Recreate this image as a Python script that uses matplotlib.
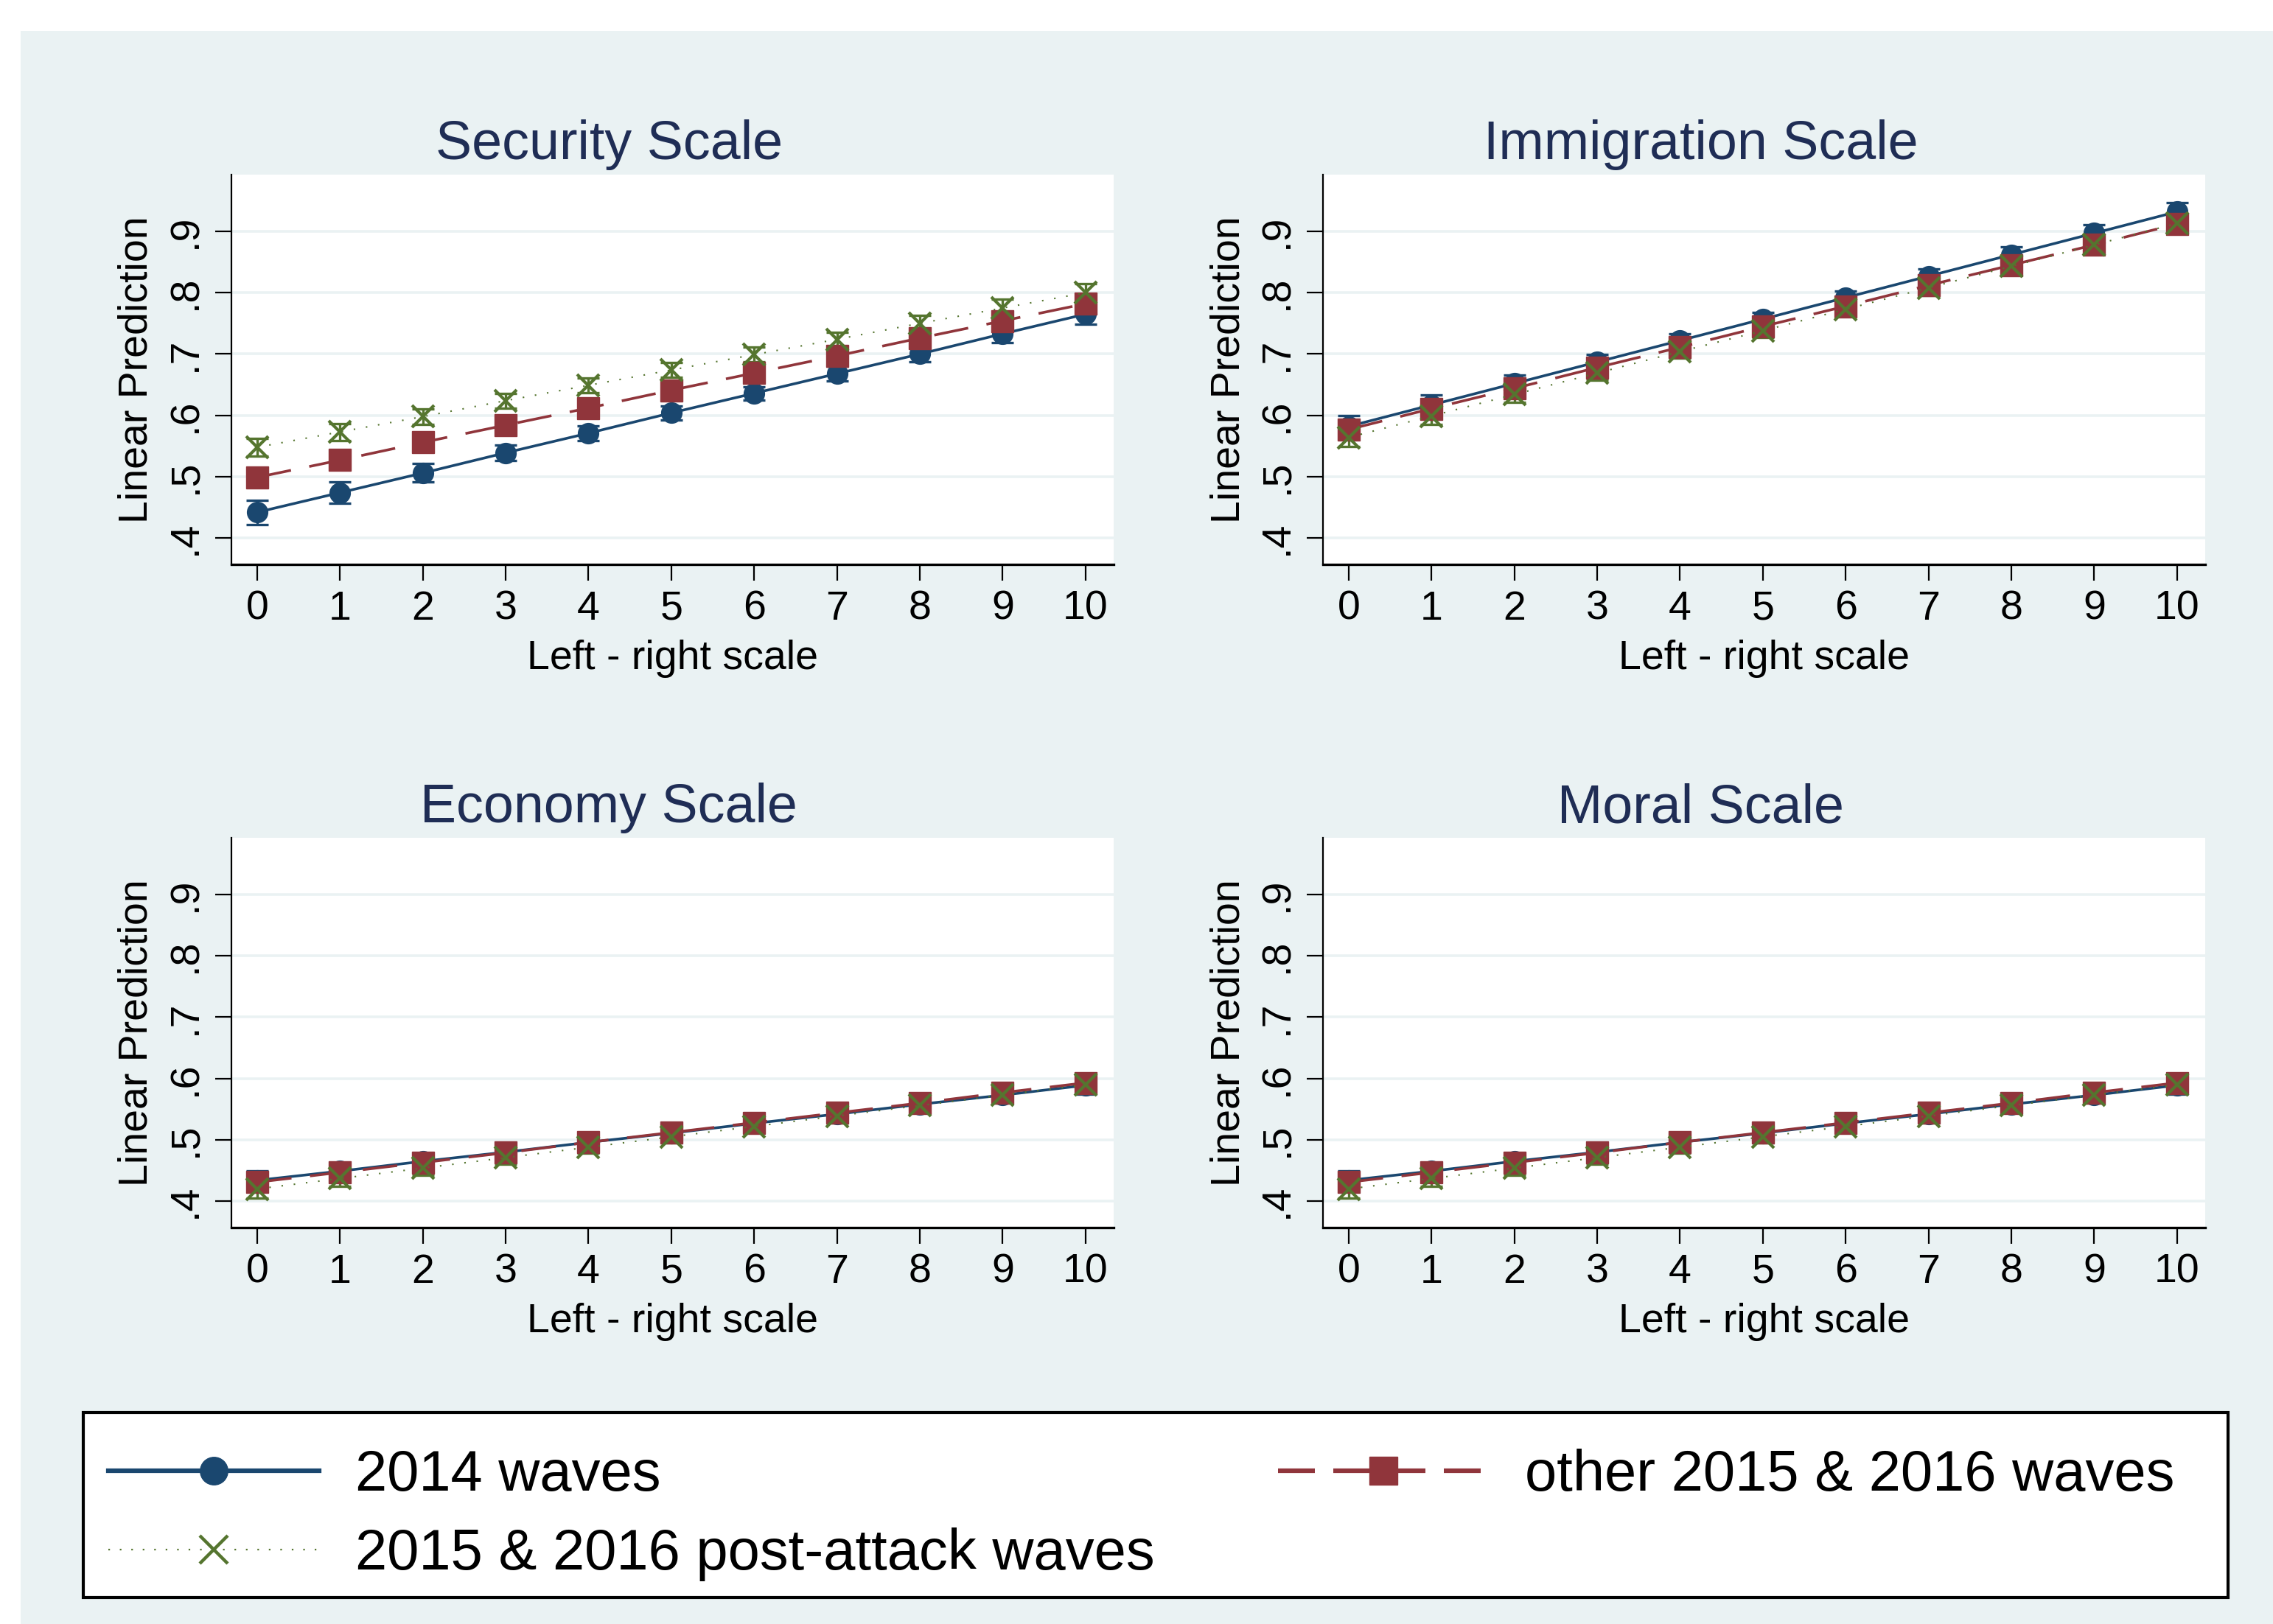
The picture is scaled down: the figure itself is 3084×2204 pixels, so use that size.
import matplotlib
matplotlib.use("Agg")
import matplotlib.pyplot as plt
from matplotlib.lines import Line2D
from matplotlib.patches import Rectangle

plt.rcParams['font.family'] = ['Liberation Sans', 'DejaVu Sans']

# valores (prediccion lineal por escala izquierda-derecha)
lr_scale = [0, 1, 2, 3, 4, 5, 6, 7, 8, 9, 10]
panels = ["Security Scale", "Immigration Scale", "Economy Scale", "Moral Scale"]
series_names = ["2014 waves", "other 2015 & 2016 waves", "2015 & 2016 post-attack waves"]

security_2014 = [.442, .474, .506, .539, .571, .604, .636, .668, .700, .733, .765]
security_other = [.499, .527, .556, .584, .612, .641, .669, .697, .726, .754, .782]
security_post = [.548, .573, .598, .624, .649, .674, .699, .724, .750, .775, .800]
security_2014_ci = [.020, .017, .015, .013, .012, .011, .011, .012, .013, .014, .016]
security_other_ci = [.014, .012, .010, .009, .008, .008, .008, .009, .010, .011, .013]
security_post_ci = [.015, .014, .013, .012, .012, .012, .012, .012, .013, .014, .015]

immigration_2014 = [.582, .617, .652, .687, .722, .757, .792, .827, .862, .897, .932]
immigration_other = [.577, .611, .644, .678, .711, .745, .778, .812, .845, .878, .912]
immigration_post = [.564, .599, .634, .669, .704, .738, .773, .808, .843, .878, .913]
immigration_2014_ci = [.018, .016, .014, .012, .011, .011, .011, .012, .013, .014, .015]
immigration_other_ci = [.012, .011, .010, .009, .009, .009, .009, .009, .010, .011, .012]
immigration_post_ci = [.015, .014, .013, .012, .011, .011, .011, .012, .013, .014, .015]

economy_2014 = [.434, .449, .465, .480, .496, .511, .527, .542, .558, .573, .589]
economy_other = [.431, .447, .463, .479, .496, .512, .528, .544, .560, .577, .593]
economy_post = [.420, .437, .454, .471, .488, .505, .522, .539, .556, .573, .590]
economy_2014_ci = [.016, .014, .012, .010, .009, .009, .009, .010, .011, .012, .014]
economy_other_ci = [.012, .010, .009, .008, .008, .008, .008, .008, .009, .010, .012]
economy_post_ci = [.015, .013, .012, .011, .010, .010, .010, .011, .012, .013, .014]

moral_2014 = [.434, .449, .465, .480, .496, .511, .527, .542, .558, .573, .589]
moral_other = [.431, .447, .463, .479, .496, .512, .528, .544, .560, .577, .593]
moral_post = [.420, .437, .454, .471, .488, .505, .522, .539, .556, .573, .590]
moral_2014_ci = [.016, .014, .012, .010, .009, .009, .009, .010, .011, .012, .014]
moral_other_ci = [.012, .010, .009, .008, .008, .008, .008, .008, .009, .010, .012]
moral_post_ci = [.015, .013, .012, .011, .010, .010, .010, .011, .012, .013, .014]

y_ticks = [.4, .5, .6, .7, .8, .9]
y_ticklabels = [".4", ".5", ".6", ".7", ".8", ".9"]

datos = [
    (security_2014, security_other, security_post,
     security_2014_ci, security_other_ci, security_post_ci),
    (immigration_2014, immigration_other, immigration_post,
     immigration_2014_ci, immigration_other_ci, immigration_post_ci),
    (economy_2014, economy_other, economy_post,
     economy_2014_ci, economy_other_ci, economy_post_ci),
    (moral_2014, moral_other, moral_post,
     moral_2014_ci, moral_other_ci, moral_post_ci),
]

# colores estilo Stata s2color
azul = "#1A476F"
granate = "#90353B"
verde = "#55752F"
fondo = "#EAF2F3"
titulo_color = "#1F2D55"

fig = plt.figure(figsize=(30.84, 22.04), dpi=100)
fig.patches.append(Rectangle((28 / 3084, 0), 1, 1 - 42 / 2204,
                             transform=fig.transFigure, facecolor=fondo,
                             edgecolor="none", zorder=-10))

# posiciones de los paneles en fracciones de figura
lefts = [314 / 3084, 1795 / 3084, 314 / 3084, 1795 / 3084]
bottoms = [1 - 766 / 2204, 1 - 766 / 2204, 1 - 1666 / 2204, 1 - 1666 / 2204]
ancho = 1197 / 3084
alto = 529 / 2204

for i, nombre in enumerate(panels):
    ax = fig.add_axes([lefts[i], bottoms[i], ancho, alto])
    y14, yot, ypo, c14, cot, cpo = datos[i]

    # intervalos de confianza primero (como en marginsplot)
    for y, c, col in [(y14, c14, azul), (yot, cot, granate), (ypo, cpo, verde)]:
        ax.errorbar(lr_scale, y, yerr=c, fmt="none", ecolor=col,
                    elinewidth=2.4, capsize=10.5, capthick=2.4, zorder=2)

    ax.plot(lr_scale, y14, color=azul, lw=2.6, marker="o", ms=20,
            mec=azul, mfc=azul, zorder=3)
    ax.plot(lr_scale, yot, color=granate, lw=2.6, dashes=(13, 7),
            marker="s", ms=21, mec=granate, mfc=granate, zorder=4)
    ax.plot(lr_scale, ypo, color=verde, lw=1.5, dashes=(1, 7),
            marker="x", ms=21, mew=3.0, mec=verde, zorder=5)

    ax.set_xlim(-0.31, 10.34)
    ax.set_ylim(0.357, 0.9925)
    ax.set_xticks(lr_scale)
    ax.set_yticks(y_ticks)
    ax.set_yticklabels(y_ticklabels, rotation=90, va="center")
    ax.grid(axis="y", color=fondo, lw=2.6, zorder=0)
    ax.set_axisbelow(True)
    for s in ["top", "right"]:
        ax.spines[s].set_visible(False)
    ax.spines["left"].set_linewidth(1.6)
    ax.spines["bottom"].set_linewidth(2.4)
    ax.tick_params(axis="both", labelsize=40, width=1.6, length=16,
                   direction="out", color="black")
    ax.tick_params(axis="x", pad=9)
    ax.tick_params(axis="y", pad=10)
    ax.set_xlabel("Left - right scale", fontsize=40, labelpad=11)
    ax.set_ylabel("Linear Prediction", fontsize=40, labelpad=10)
    ax.set_title(nombre, fontsize=53, color=titulo_color, x=0.428, pad=15)

# leyenda con caja propia
fig.patches.append(Rectangle((113 / 3084, 1 - 2168 / 2204), 2910 / 3084, 251 / 2204,
                             transform=fig.transFigure, facecolor="white",
                             edgecolor="black", lw=3, zorder=1))
h14 = Line2D([], [], color=azul, lw=4.5, marker="o", ms=27, mfc=azul, mec=azul)
hot = Line2D([], [], color=granate, lw=4.5, dashes=(8, 4), marker="s", ms=27,
             mfc=granate, mec=granate)
hpo = Line2D([], [], color=verde, lw=1.6, dashes=(1, 6), marker="x", ms=27,
             mew=3.2, mec=verde)
fig.legend([h14, hpo, hot], [series_names[0], series_names[2], series_names[1]],
           ncol=2, frameon=False, fontsize=56, loc="upper left",
           bbox_to_anchor=(147 / 3084, 1 - 1966 / 2204), borderpad=0,
           borderaxespad=0, handlelength=3.68, handletextpad=0.63,
           labelspacing=0.44, columnspacing=2.15)

fig.savefig("out.png", dpi=100)
